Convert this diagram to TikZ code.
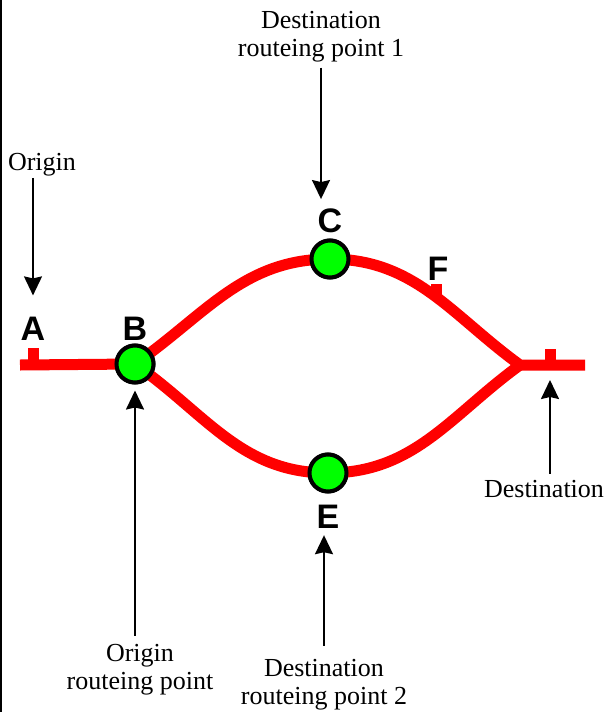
\documentclass[tikz,border=0pt]{standalone}
\usepackage{fontspec}
\setmainfont{Liberation Serif}
\setsansfont{Liberation Sans}
\usetikzlibrary{arrows.meta,positioning}

\begin{document}
\begin{tikzpicture}[
  x=1pt, y=1pt,
  track/.style={draw=red, line width=11pt},
  spur/.style={draw=red, line width=11pt},
  stop/.style={circle, draw=black, fill=green, line width=4pt, minimum size=37pt, inner sep=0pt},
  letter/.style={font=\fontsize{34}{34}\selectfont\sffamily\bfseries, inner sep=0pt, anchor=base},
  caption/.style={font=\fontsize{26}{28}\selectfont, align=center, inner sep=0pt},
  arrow/.style={-{Stealth[length=19pt,width=18pt,inset=2pt]}, line width=1.8pt}
]
\useasboundingbox (0,0) rectangle (613,-712);
\draw[line width=1.5pt] (0.75,0) -- (0.75,-712);

\coordinate (west) at (20,-365);
\coordinate (spurA) at (33,-365);
\coordinate (J) at (520,-365);
\coordinate (dest) at (550,-365);
\coordinate (east) at (585,-365);
\node[stop] (B) at (135,-364) {};
\node[stop] (C) at (330,-259) {};
\node[stop] (E) at (328,-473) {};

\draw[track] (west) -- (B.center) to[out=35,in=180] (C.center)
  to[out=0,in=144] coordinate[pos=0.53] (f) (J) -- (east);
\draw[track] (B.center) to[out=-35,in=180] (E.center) to[out=0,in=-144] (J);
\draw[spur] (spurA) -- ++(0,17);
\draw[spur] (dest) -- ++(0,16);
\draw[spur] (f) -- ++(0,13);

\node[stop] at (B) {};
\node[stop] at (C) {};
\node[stop] at (E) {};

\node[letter] (lblA) at (33,-340) {A};
\node[letter] (lblB) at (135,-340) {B};
\node[letter] (lblC) at (330,-232) {C};
\node[letter] (lblE) at (328,-528) {E};
\node[letter] (lblF) at (438,-280) {F};

\node[caption, anchor=base] (origin) at (42,-170) {Origin};
\node[caption, anchor=north] (drp1) at (321,-11.5) {Destination\\routeing point 1};
\node[caption, anchor=north] (orp) at (140,-644.5) {Origin\\routeing point};
\node[caption, anchor=north] (drp2) at (324,-659.5) {Destination\\routeing point 2};
\node[caption, anchor=base] (destination) at (544,-497) {Destination};

\draw[arrow, shorten <=2pt, shorten >=21pt] (origin.south -| lblA) -- (lblA);
\draw[arrow, shorten <=5pt, shorten >=9pt] (drp1.south) -- (drp1.south |- lblC.north);
\draw[arrow, shorten <=9pt, shorten >=6pt] (orp.north -| B) -- (B);
\draw[arrow, shorten <=14pt, shorten >=7pt] (drp2.north) -- (drp2.north |- lblE.south);
\draw[arrow, shorten <=6pt, shorten >=15pt] (destination.north -| dest) -- (dest);
\end{tikzpicture}
\end{document}
